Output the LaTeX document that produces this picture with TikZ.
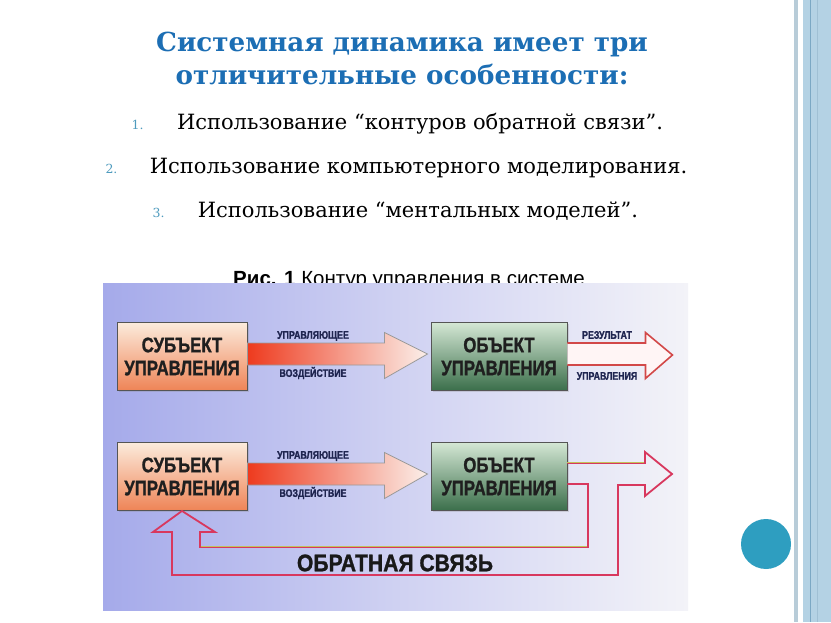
\documentclass[tikz,border=0pt]{standalone}
\usepackage{fontspec}
\setmainfont{DejaVu Serif}
\newfontfamily\capfont{Liberation Sans}
\newfontfamily\boxfont[FakeStretch=0.8, BoldFeatures={FakeBold=1.2}]{Liberation Sans}
\newfontfamily\fbfont[FakeStretch=0.88, BoldFeatures={FakeBold=1.2}]{Liberation Sans}
\usetikzlibrary{calc,shadows}
\definecolor{titleblue}{HTML}{1C6EB4}
\definecolor{numblue}{HTML}{4E9BBE}
\definecolor{bgL}{HTML}{A5AAEA}
\definecolor{bgM}{HTML}{CFD1F2}
\definecolor{bgR}{HTML}{F3F3F8}
\definecolor{subjtop}{HTML}{FCEBDC}
\definecolor{subjbot}{HTML}{EE8456}
\definecolor{objtop}{HTML}{D4E7D4}
\definecolor{objbot}{HTML}{3B6F4B}
\definecolor{boxline}{HTML}{555555}
\definecolor{ctrlL}{HTML}{EE3A1E}
\definecolor{ctrlR}{HTML}{FBF0EA}
\definecolor{labnavy}{HTML}{1F2550}
\definecolor{resred}{HTML}{D24848}
\definecolor{fbred}{HTML}{D8385E}
\definecolor{fbolive}{HTML}{C2C25A}
\definecolor{stripgrey}{HTML}{B8CCD8}
\definecolor{bandblue}{HTML}{B4D2E4}
\definecolor{bandline}{HTML}{7BA8C4}
\definecolor{bandline2}{HTML}{A0C0D4}
\definecolor{dotblue}{HTML}{2E9EC0}
\begin{document}
\begin{tikzpicture}[x=1pt,y=-1pt,
  titlestyle/.style={anchor=base, inner sep=0, text=titleblue, font={\bfseries\fontsize{26.2}{30}\selectfont}},
  itemstyle/.style={anchor=base, inner sep=0, font={\fontsize{21}{24}\selectfont}},
  numstyle/.style={anchor=base east, inner sep=0, text=numblue, font={\fontsize{12.5}{14}\selectfont}},
  subjbox/.style={draw=boxline, line width=0.9pt, minimum width=130pt, minimum height=68pt, inner sep=0,
    top color=subjtop, bottom color=subjbot, align=center, text=black!88,
    font={\boxfont\bfseries\fontsize{21}{23}\selectfont},
    drop shadow={shadow xshift=1.5pt, shadow yshift=-1.5pt, opacity=0.25}},
  objbox/.style={subjbox, minimum width=136pt, top color=objtop, bottom color=objbot},
  ctrlarrow/.style={draw=gray!80, line width=0.8pt, left color=ctrlL, right color=ctrlR},
  resarrow/.style={draw=resred, line width=1.6pt, fill=white!96!red, line join=miter},
  fbline/.style={draw=fbred, line width=1.8pt, line join=miter},
  oliveline/.style={draw=fbolive, line width=1.2pt},
  smalllab/.style={inner sep=0, text=labnavy, font={\boxfont\bfseries\fontsize{11}{12}\selectfont}},
  biglab/.style={inner sep=0, text=black!90, font={\fbfont\bfseries\fontsize{24}{26}\selectfont}}
]
\useasboundingbox (0,0) rectangle (831,623);
\fill[white] (0,0) rectangle (831,623);

% right decoration
\fill[stripgrey] (794,0) rectangle (798,622);
\fill[bandblue] (803,0) rectangle (831,622);
\draw[bandline, line width=1pt] (810,0) -- (810,622);
\draw[bandline2, line width=0.6pt] (817.5,0) -- (817.5,622);
\fill[dotblue] (766,544) circle (25);

% title
\node[titlestyle] (t1) at (402,51.7) {Системная динамика имеет три};
\node[titlestyle] (t2) at (402,84.3) {отличительные особенности:};

% list
\node[itemstyle] (i1) at (420,129.3) {Использование “контуров обратной связи”.};
\node[itemstyle] (i2) at (418.5,173.3) {Использование компьютерного моделирования.};
\node[itemstyle] (i3) at (418,217.7) {Использование “ментальных моделей”.};
\node[numstyle] (n1) at ($(i1.base west)+(-33,0)$) {1.};
\node[numstyle] (n2) at ($(i2.base west)+(-32,0)$) {2.};
\node[numstyle] (n3) at ($(i3.base west)+(-33,0)$) {3.};

% caption
\node[anchor=base, inner sep=0, font={\capfont\fontsize{20.5}{23}\selectfont}] (cap) at (409,285.5)
  {\textbf{Рис. 1} Контур управления в системе};

% diagram background
\fill[left color=bgL, right color=bgR, middle color=bgM] (103,283) rectangle (688,610);

% row 1
\node[subjbox] (s1) at (182,356.5) {СУБЪЕКТ\\УПРАВЛЕНИЯ};
\node[objbox] (o1) at (499,356.5) {ОБЪЕКТ\\УПРАВЛЕНИЯ};
\draw[ctrlarrow] ($(s1.east)+(0,-13.5)$) -- ($(o1.west)+(-46,-13.5)$) -- ($(o1.west)+(-46,-24)$)
  -- ($(o1.west)+(-3,-2.5)$) -- ($(o1.west)+(-46,22)$) -- ($(o1.west)+(-46,8.5)$)
  -- ($(s1.east)+(0,8.5)$) -- cycle;
\draw[resarrow] ($(o1.east)+(0,-13.5)$) -- ($(o1.east)+(78,-13.5)$) -- ($(o1.east)+(78,-24)$)
  -- ($(o1.east)+(105,-1.5)$) -- ($(o1.east)+(78,22)$) -- ($(o1.east)+(78,8.5)$) -- ($(o1.east)+(0,8.5)$);
\node[smalllab] (l1a) at (313,336) {УПРАВЛЯЮЩЕЕ};
\node[smalllab] (l1b) at (313,373) {ВОЗДЕЙСТВИЕ};
\node[smalllab] (r1a) at (607,335) {РЕЗУЛЬТАТ};
\node[smalllab] (r1b) at (607,376) {УПРАВЛЕНИЯ};

% row 2
\node[subjbox] (s2) at (182,476.5) {СУБЪЕКТ\\УПРАВЛЕНИЯ};
\node[objbox] (o2) at (499,476.5) {ОБЪЕКТ\\УПРАВЛЕНИЯ};
\draw[ctrlarrow] ($(s2.east)+(0,-13.5)$) -- ($(o2.west)+(-46,-13.5)$) -- ($(o2.west)+(-46,-24)$)
  -- ($(o2.west)+(-3,-2.5)$) -- ($(o2.west)+(-46,22)$) -- ($(o2.west)+(-46,8.5)$)
  -- ($(s2.east)+(0,8.5)$) -- cycle;
\node[smalllab] (l2a) at (313,456) {УПРАВЛЯЮЩЕЕ};
\node[smalllab] (l2b) at (313,493) {ВОЗДЕЙСТВИЕ};

% feedback loop
\draw[fbline] ($(o2.east)+(0,-13.5)$) -- (645,463) -- (645,452) -- (672,474) -- (645,496) -- (645,485)
  -- (618,485) -- (618,575) -- (172,575) -- (172,532) -- (153,532) -- (s2.south) -- (215,532)
  -- (200,532) -- (200,547) -- (588,547) -- (588,484) -- ($(o2.east)+(0,7.5)$);
\draw[oliveline] ($(o2.east)+(0,-14.3)$) -- (644,462.2);
\draw[oliveline] (201,546.2) -- (587,546.2);
\node[biglab] (fb) at (395,563) {ОБРАТНАЯ СВЯЗЬ};
\end{tikzpicture}
\end{document}
